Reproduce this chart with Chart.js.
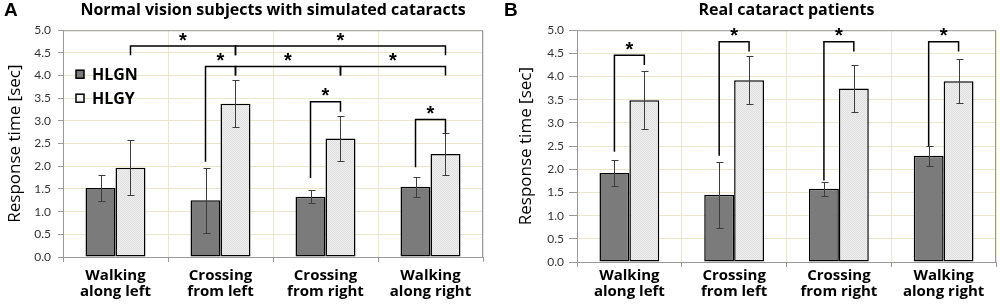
<!DOCTYPE html>
<html>
<head>
<meta charset="utf-8">
<script src="https://cdn.jsdelivr.net/npm/chart.js@4.4.0/dist/chart.umd.min.js"></script>
<style>
  body { margin: 0; background: #fff; }
  .panel { position: absolute; top: 0; width: 500px; height: 307px; }
</style>
</head>
<body>
<div class="panel" style="left:0"><canvas id="chartA" width="500" height="307"></canvas></div>
<div class="panel" style="left:500px"><canvas id="chartB" width="500" height="307"></canvas></div>
<script>
// ---- data ----
const categories = [['Walking', 'along left'], ['Crossing', 'from left'], ['Crossing', 'from right'], ['Walking', 'along right']];
const seriesNames = ['HLGN', 'HLGY'];

// A: normal vision subjects with simulated cataracts
const simHLGN = [1.52, 1.25, 1.33, 1.55];
const simHLGNErr = [0.28, 0.71, 0.15, 0.22];
const simHLGY = [1.97, 3.38, 2.61, 2.27];
const simHLGYErr = [0.61, 0.52, 0.50, 0.46];

// B: real cataract patients
const realHLGN = [1.92, 1.45, 1.58, 2.29];
const realHLGNErr = [0.29, 0.71, 0.15, 0.22];
const realHLGY = [3.49, 3.92, 3.74, 3.90];
const realHLGYErr = [0.62, 0.52, 0.51, 0.48];

// significance brackets: [fromCat, fromSeries, toCat, toSeries, topValue, leftLegEnd, rightLegEnd]
const simBrackets = [
  [0, 1, 1, 1, 4.65, 4.45, 4.45],
  [1, 1, 3, 1, 4.65, 4.45, 4.45],
  [1, 0, 1, 1, 4.20, 2.10, 4.00],
  [1, 1, 2, 1, 4.20, 4.00, 4.00],
  [2, 1, 3, 1, 4.20, 4.00, 4.00],
  [2, 0, 2, 1, 3.42, 1.74, 3.20],
  [3, 0, 3, 1, 3.03, 1.98, 2.72]
];
const realBrackets = [
  [0, 0, 0, 1, 4.46, 2.38, 4.25],
  [1, 0, 1, 1, 4.75, 2.29, 4.54],
  [2, 0, 2, 1, 4.75, 1.76, 4.54],
  [3, 0, 3, 1, 4.75, 2.50, 4.54]
];

const yMin = 0, yMax = 5, yStep = 0.5;

// ---- styles ----
const gridColor = '#ebe7cf';
const axisColor = '#9a9a9a';
const darkFill = '#7b7b7b';
const textFont = '"Open Sans"';

// fine light-grey texture for the HLGY bars
function dottedPattern() {
  const c = document.createElement('canvas');
  c.width = 2; c.height = 2;
  const g = c.getContext('2d');
  g.fillStyle = '#eeeeee';
  g.fillRect(0, 0, 2, 2);
  g.fillStyle = '#e0e0e0';
  g.fillRect(0, 0, 1, 1);
  g.fillRect(1, 1, 1, 1);
  return g.createPattern(c, 'repeat');
}
const lightFill = dottedPattern();

/**
 * Draws frame, error bars, brackets, legend and panel letter
 */
function extrasPlugin(cfg) {
  return {
    id: 'extras',
    beforeDatasetsDraw(chart) {
      const a = chart.chartArea, ctx = chart.ctx;
      ctx.save();
      ctx.strokeStyle = axisColor;
      ctx.lineWidth = 1;
      ctx.strokeRect(a.left + 0.5, a.top + 0.5, a.right - a.left - 1, a.bottom - a.top);
      ctx.restore();
    },
    afterDatasetsDraw(chart) {
      const ctx = chart.ctx, y = chart.scales.y;
      ctx.save();
      // error bars
      ctx.strokeStyle = '#3c3c3c';
      ctx.lineWidth = 1;
      cfg.errors.forEach((errs, di) => {
        const meta = chart.getDatasetMeta(di);
        meta.data.forEach((bar, i) => {
          const v = chart.data.datasets[di].data[i];
          const yt = Math.round(y.getPixelForValue(v + errs[i])) + 0.5;
          const yb = Math.round(y.getPixelForValue(v - errs[i])) + 0.5;
          const x = Math.round(bar.x) + 0.5;
          ctx.beginPath();
          ctx.moveTo(x, yt); ctx.lineTo(x, yb);
          ctx.moveTo(x - 3, yt); ctx.lineTo(x + 4, yt);
          ctx.moveTo(x - 3, yb); ctx.lineTo(x + 4, yb);
          ctx.stroke();
        });
      });
      // brackets
      ctx.strokeStyle = '#000';
      ctx.lineWidth = 1.5;
      ctx.fillStyle = '#000';
      ctx.font = 'bold 20px "Liberation Sans"';
      ctx.textAlign = 'center';
      ctx.textBaseline = 'middle';
      cfg.brackets.forEach(b => {
        const x1 = chart.getDatasetMeta(b[1]).data[b[0]].x;
        const x2 = chart.getDatasetMeta(b[3]).data[b[2]].x;
        const yt = y.getPixelForValue(b[4]);
        ctx.beginPath();
        ctx.moveTo(x1, y.getPixelForValue(b[5]));
        ctx.lineTo(x1, yt);
        ctx.lineTo(x2, yt);
        ctx.lineTo(x2, y.getPixelForValue(b[6]));
        ctx.stroke();
        ctx.fillText('*', (x1 + x2) / 2, yt - 5);
      });
      ctx.restore();
    },
    afterDraw(chart) {
      const ctx = chart.ctx, a = chart.chartArea;
      ctx.save();
      ctx.fillStyle = '#000';
      ctx.font = 'bold 19px "Liberation Sans"';
      ctx.textBaseline = 'middle';
      ctx.textAlign = 'left';
      ctx.fillText(cfg.letter, 4, 11);
      if (cfg.legend) {
        const fills = [darkFill, '#f4f4f4'];
        seriesNames.forEach((name, i) => {
          const yy = a.top + 44 + i * 24;
          ctx.fillStyle = fills[i];
          ctx.fillRect(a.left + 13, yy - 4, 8, 8);
          ctx.strokeStyle = '#000';
          ctx.lineWidth = 1.5;
          ctx.strokeRect(a.left + 13, yy - 4, 8, 8);
          ctx.fillStyle = '#000';
          ctx.font = 'bold 16px ' + textFont;
          ctx.fillText(name, a.left + 29, yy + 1);
        });
      }
      ctx.restore();
    }
  };
}

function makePanel(canvasId, cfg) {
  return new Chart(document.getElementById(canvasId), {
    type: 'bar',
    data: {
      labels: categories,
      datasets: [
        { label: seriesNames[0], data: cfg.hlgn, backgroundColor: darkFill, borderColor: '#000', borderWidth: 1.5, borderSkipped: false },
        { label: seriesNames[1], data: cfg.hlgy, backgroundColor: lightFill, borderColor: '#000', borderWidth: 1.5, borderSkipped: false }
      ]
    },
    options: {
      responsive: false,
      animation: false,
      categoryPercentage: 0.571,
      barPercentage: 1.0,
      layout: { padding: { left: 0, right: cfg.padRight, top: 0, bottom: 0 } },
      plugins: {
        legend: { display: false },
        tooltip: { enabled: false },
        title: {
          display: true,
          text: cfg.title,
          fullSize: false,
          color: '#000',
          font: { family: textFont, size: 16, weight: 'bold', lineHeight: 1.2 },
          padding: { top: 1, bottom: 10 }
        }
      },
      scales: {
        x: {
          grid: { color: gridColor, tickColor: axisColor, tickLength: 5, offset: true },
          border: { color: axisColor },
          ticks: { color: '#000', padding: cfg.xPad, font: { family: textFont, size: 15, weight: 'bold', lineHeight: 1.1 } },
          afterFit: s => { s.height = cfg.xHeight; }
        },
        y: {
          min: yMin,
          max: yMax,
          grid: { color: gridColor, tickColor: axisColor, tickLength: cfg.yTick },
          border: { color: axisColor },
          ticks: { stepSize: yStep, color: '#333', padding: cfg.yPad, font: { family: 'Lato', size: 12 }, callback: v => v.toFixed(1) },
          title: { display: true, text: 'Response time [sec]', color: '#000', font: { family: textFont, size: 17 }, padding: { top: cfg.titlePad } },
          afterFit: s => { s.width = cfg.yWidth; }
        }
      }
    },
    plugins: [extrasPlugin(cfg)]
  });
}

makePanel('chartA', {
  title: 'Normal vision subjects with simulated cataracts', letter: 'A', legend: true,
  hlgn: simHLGN, hlgy: simHLGY, errors: [simHLGNErr, simHLGYErr], brackets: simBrackets,
  padRight: 17, yWidth: 63, xHeight: 50, xPad: 5, yTick: 5, yPad: 7, titlePad: 5
});
makePanel('chartB', {
  title: 'Real cataract patients', letter: 'B', legend: false,
  hlgn: realHLGN, hlgy: realHLGY, errors: [realHLGNErr, realHLGYErr], brackets: realBrackets,
  padRight: 4, yWidth: 77, xHeight: 45, xPad: 0, yTick: 8, yPad: 5, titlePad: 16
});
</script>
</body>
</html>
